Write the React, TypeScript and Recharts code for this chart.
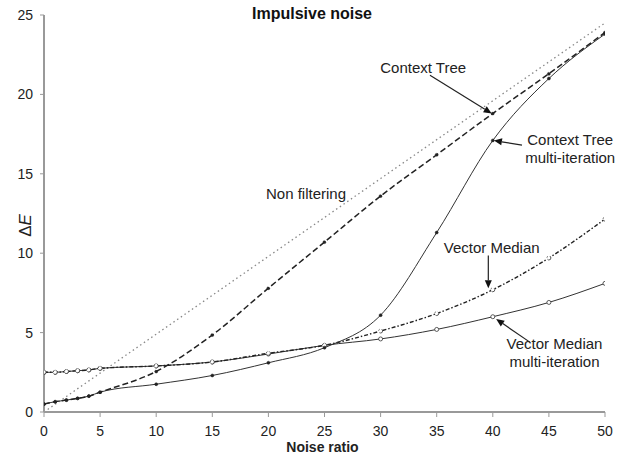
import React from 'react';
import { LineChart, Line, XAxis, YAxis, ReferenceLine, ReferenceDot } from 'recharts';

const noiseRatio = [0, 1, 2, 3, 4, 5, 10, 15, 20, 25, 30, 35, 40, 45, 50];
const nonFiltering = [0, 0.49, 0.98, 1.47, 1.96, 2.45, 4.9, 7.35, 9.8, 12.25, 14.7, 17.15, 19.6, 22.05, 24.5];
const contextTree = [0.5, 0.65, 0.75, 0.86, 1.0, 1.25, 2.55, 4.85, 7.8, 10.7, 13.6, 16.2, 18.8, 21.3, 23.9];
const contextTreeMulti = [0.5, 0.65, 0.75, 0.86, 1.0, 1.25, 1.75, 2.3, 3.1, 4.05, 6.1, 11.3, 17.1, 21.0, 23.8];
const vectorMedian = [2.5, 2.5, 2.55, 2.6, 2.65, 2.75, 2.9, 3.15, 3.7, 4.2, 5.1, 6.2, 7.7, 9.7, 12.15];
const vectorMedianMulti = [2.5, 2.5, 2.55, 2.6, 2.65, 2.75, 2.9, 3.15, 3.65, 4.2, 4.6, 5.2, 6.0, 6.9, 8.1];

const xTicks = [0, 5, 10, 15, 20, 25, 30, 35, 40, 45, 50];
const yTicks = [0, 5, 10, 15, 20, 25];

const titleText = 'Impulsive noise';
const xLabelText = 'Noise ratio';

// annotations: label position (data coords) and arrow from/to (data coords)
const labels = [
  { x: 33.8, y: 21.7, lines: ['Context Tree'] },
  { x: 23.35, y: 13.8, lines: ['Non filtering'] },
  { x: 46.9, y: 16.6, lines: ['Context Tree', 'multi-iteration'] },
  { x: 39.9, y: 10.4, lines: ['Vector Median'] },
  { x: 45.5, y: 3.8, lines: ['Vector Median', 'multi-iteration'] },
];
const arrows = [
  { from: [34.4, 21.2], to: [39.9, 18.8] },
  { from: [42.6, 16.8], to: [40.1, 17.1] },
  { from: [39.6, 9.85], to: [39.6, 7.8] },
  { from: [43.3, 4.4], to: [40.3, 5.85] },
];

const data = noiseRatio.map((x, i) => ({
  x,
  nonFiltering: nonFiltering[i],
  contextTree: contextTree[i],
  contextTreeMulti: contextTreeMulti[i],
  vectorMedian: vectorMedian[i],
  vectorMedianMulti: vectorMedianMulti[i],
}));

const FONT = '"Liberation Sans", Arial, sans-serif';

const ArrowShape = (props: any) => {
  const { x1, y1, x2, y2 } = props;
  const ang = Math.atan2(y2 - y1, x2 - x1);
  const L = 8;
  const W = 3.5;
  const bx = x2 - L * Math.cos(ang);
  const by = y2 - L * Math.sin(ang);
  const px = -Math.sin(ang) * W;
  const py = Math.cos(ang) * W;
  return (
    <g>
      <line x1={x1} y1={y1} x2={bx} y2={by} stroke="#222" strokeWidth={1.2} />
      <polygon points={`${x2},${y2} ${bx + px},${by + py} ${bx - px},${by - py}`} fill="#111" />
    </g>
  );
};

const makeLabelShape = (lines: string[]) => (props: any) => {
  const { cx, cy } = props;
  const lh = 18;
  const startY = cy - ((lines.length - 1) * lh) / 2;
  return (
    <text x={cx} y={startY} textAnchor="middle" dominantBaseline="central" fontFamily={FONT} fontSize={15} fill="#222">
      {lines.map((l, i) => (
        <tspan key={i} x={cx} y={startY + i * lh}>{l}</tspan>
      ))}
    </text>
  );
};

const YLabel = (props: any) => {
  const vb = props.viewBox || {};
  const x = (vb.x || 0) + 25;
  const y = (vb.y || 0) + (vb.height || 0) / 2 + 12;
  return (
    <text x={x} y={y} transform={`rotate(-90 ${x} ${y})`} textAnchor="middle" dominantBaseline="central" fontFamily={FONT} fontSize={17} fill="#222">
      <tspan>Δ</tspan><tspan fontStyle="italic">E</tspan>
    </text>
  );
};

const XLabel = (props: any) => {
  const vb = props.viewBox || {};
  const x = (vb.x || 0) + (vb.width || 0) / 2 - 2;
  const y = 447;
  return (
    <text x={x} y={y} textAnchor="middle" dominantBaseline="central" fontFamily={FONT} fontSize={14} fontWeight="bold" fill="#222">
      {xLabelText}
    </text>
  );
};

export default function App() {
  return (
    <div style={{ position: 'absolute', left: 0, top: 0, width: 627, height: 456, background: '#fff' }}>
      <div
        style={{
          position: 'absolute',
          left: 312,
          top: 5,
          transform: 'translateX(-50%)',
          fontFamily: FONT,
          fontWeight: 'bold',
          fontSize: 16,
          lineHeight: '18px',
          color: '#111',
          whiteSpace: 'nowrap',
          zIndex: 2,
        }}
      >
        {titleText}
      </div>
      <LineChart width={627} height={456} data={data} margin={{ top: 15, right: 22, bottom: 0, left: 0 }}>
        <XAxis
          dataKey="x"
          type="number"
          domain={[0, 50]}
          ticks={xTicks}
          height={44}
          axisLine={{ stroke: '#999', strokeWidth: 2 }}
          tickLine={{ stroke: '#999' }}
          tickSize={5}
          tickMargin={9}
          tick={{ fill: '#222', fontSize: 14, fontFamily: FONT }}
          label={<XLabel />}
          allowDataOverflow
        />
        <YAxis
          type="number"
          domain={[0, 25]}
          ticks={yTicks}
          width={44}
          axisLine={{ stroke: '#999', strokeWidth: 2 }}
          tickLine={{ stroke: '#999' }}
          tickSize={4}
          tickMargin={7}
          tick={{ fill: '#222', fontSize: 14, fontFamily: FONT }}
          label={<YLabel />}
          allowDataOverflow
        />
        <Line
          dataKey="nonFiltering"
          stroke="#888"
          strokeWidth={1.3}
          strokeDasharray="1.5 3"
          dot={false}
          type="linear"
          isAnimationActive={false}
        />
        <Line
          dataKey="vectorMedianMulti"
          stroke="#333"
          strokeWidth={1}
          dot={{ r: 2, fill: '#fff', stroke: '#333', strokeWidth: 0.8 }}
          type="monotone"
          isAnimationActive={false}
        />
        <Line
          dataKey="vectorMedian"
          stroke="#222"
          strokeWidth={1.4}
          strokeDasharray="4 2 1.5 2"
          dot={{ r: 2, fill: '#fff', stroke: '#333', strokeWidth: 0.8 }}
          type="monotone"
          isAnimationActive={false}
        />
        <Line
          dataKey="contextTreeMulti"
          stroke="#333"
          strokeWidth={1}
          dot={{ r: 1.5, fill: '#222', stroke: '#222', strokeWidth: 0.5 }}
          type="monotone"
          isAnimationActive={false}
        />
        <Line
          dataKey="contextTree"
          stroke="#222"
          strokeWidth={1.5}
          strokeDasharray="6 3"
          dot={{ r: 1.5, fill: '#222', stroke: '#222', strokeWidth: 0.5 }}
          type="monotone"
          isAnimationActive={false}
        />
        {arrows.map((a, i) => (
          <ReferenceLine
            key={`a${i}`}
            segment={[
              { x: a.from[0], y: a.from[1] },
              { x: a.to[0], y: a.to[1] },
            ]}
            ifOverflow="visible"
            shape={ArrowShape}
          />
        ))}
        {labels.map((l, i) => (
          <ReferenceDot
            key={`l${i}`}
            x={l.x}
            y={l.y}
            r={0}
            ifOverflow="visible"
            shape={makeLabelShape(l.lines)}
          />
        ))}
      </LineChart>
    </div>
  );
}
